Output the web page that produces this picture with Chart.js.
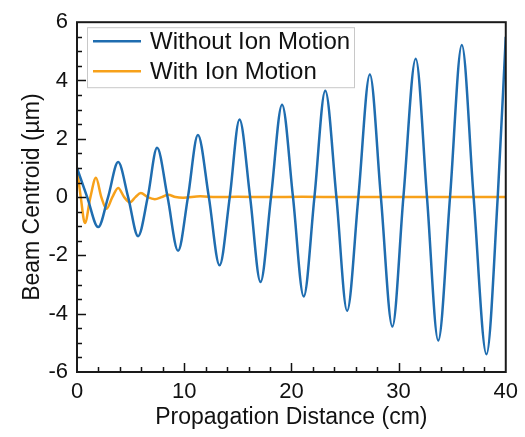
<!DOCTYPE html>
<html>
<head>
<meta charset="utf-8">
<script src="https://cdn.jsdelivr.net/npm/chart.js@4.4.1/dist/chart.umd.min.js"></script>
<style>
    html, body { margin: 0; padding: 0; background: #fff; }
</style>
</head>
<body>
<canvas id="beam-chart" width="525" height="437"></canvas>
<script>
// Дані (піки, западини та перетини нуля)
const withoutIonX = [0, 0.95, 1.98, 2.9, 3.84, 4.77, 5.7, 6.6, 7.47, 8.45, 9.43, 10.35, 11.28, 12.3, 13.3, 14.25,
    15.16, 16.15, 17.12, 18.1, 19.13, 20.15, 21.15, 22.15, 23.16, 24.2, 25.2, 26.25, 27.32, 28.35, 29.42,
    30.45, 31.6, 32.65, 33.7, 34.8, 35.9, 37.0, 38.2, 39.25, 40];
const withoutIonY = [1.0, 0, -1.03, 0, 1.2, 0, -1.34, 0, 1.69, 0, -1.84, 0, 2.13, 0, -2.34, 0,
    2.66, 0, -2.91, 0, 3.17, 0, -3.41, 0, 3.65, 0, -3.9, 0, 4.21, 0, -4.44,
    0, 4.75, 0, -4.92, 0, 5.22, 0, -5.39, 0, 5.5];

const withIonX = [0, 0.35, 0.74, 1.25, 1.77, 2.27, 2.76, 3.3, 3.84, 4.4, 4.93, 5.45, 5.95, 6.6, 7.26, 7.9,
    8.5, 9.2, 9.9, 11.5, 13, 15, 18, 21, 25, 30, 35, 40];
const withIonY = [1.0, 0, -0.89, 0, 0.66, 0, -0.4, 0, 0.31, 0, -0.18, 0, 0.14, 0, -0.07, 0,
    0.08, 0, -0.02, 0.03, 0.0, 0.01, 0.0, 0.01, 0.0, 0.0, 0.0, 0.0];

const seriesLabels = ['Without Ion Motion', 'With Ion Motion'];
const seriesColors = ['#1f6db0', '#f7a11a'];

const xTickValues = [0, 10, 20, 30, 40];
const yTickValues = [-6, -4, -2, 0, 2, 4, 6];

const FONT = '"Liberation Sans", Arial, Helvetica, sans-serif';

function toPoints(xs, ys) {
    return xs.map((x, i) => ({ x: x, y: ys[i] }));
}

// Рамка та внутрішні мітки (основні + проміжні)
const frameTicks = {
    id: 'frameTicks',
    afterDatasetsDraw(chart) {
        const { ctx, chartArea: a, scales: { x, y } } = chart;
        ctx.save();
        ctx.strokeStyle = '#111';
        ctx.lineWidth = 1.5;
        ctx.beginPath();
        for (let v = 2; v < 40; v += 2) {
            const p = Math.round(x.getPixelForValue(v)) + 0.5;
            const len = v % 10 === 0 ? 9 : 5;
            ctx.moveTo(p, a.bottom);
            ctx.lineTo(p, a.bottom - len);
        }
        for (let v = -5.5; v < 6; v += 0.5) {
            const p = Math.round(y.getPixelForValue(v)) + 0.5;
            const len = v % 2 === 0 ? 9 : 5;
            ctx.moveTo(a.left, p);
            ctx.lineTo(a.left + len, p);
        }
        ctx.stroke();
        ctx.lineWidth = 2;
        ctx.strokeStyle = '#1a1a1a';
        ctx.strokeRect(a.left, a.top, a.width, a.height);
        ctx.restore();
    }
};

// Легенда всередині області графіка
const insideLegend = {
    id: 'insideLegend',
    afterDraw(chart) {
        const { ctx, chartArea: a } = chart;
        const bx = a.left + 10, by = a.top + 5, bw = 267, bh = 60;
        ctx.save();
        ctx.fillStyle = '#fff';
        ctx.fillRect(bx, by, bw, bh);
        ctx.strokeStyle = '#c8c8c8';
        ctx.lineWidth = 1;
        ctx.strokeRect(bx + 0.5, by + 0.5, bw, bh);
        ctx.font = '24px ' + FONT;
        ctx.textBaseline = 'middle';
        chart.data.datasets.forEach((ds, i) => {
            const iy = by + 14 + i * 30;
            ctx.strokeStyle = ds.borderColor;
            ctx.lineWidth = 2.5;
            ctx.beginPath();
            ctx.moveTo(bx + 6, iy);
            ctx.lineTo(bx + 54, iy);
            ctx.stroke();
            ctx.fillStyle = '#111';
            ctx.fillText(ds.label, bx + 63, iy + 1);
        });
        ctx.restore();
    }
};

new Chart(document.getElementById('beam-chart'), {
    type: 'line',
    data: {
        datasets: [
            {
                label: seriesLabels[0],
                data: toPoints(withoutIonX, withoutIonY),
                borderColor: seriesColors[0],
                borderWidth: 2.5,
                pointRadius: 0,
                cubicInterpolationMode: 'monotone',
                fill: false
            },
            {
                label: seriesLabels[1],
                data: toPoints(withIonX, withIonY),
                borderColor: seriesColors[1],
                borderWidth: 2.5,
                pointRadius: 0,
                cubicInterpolationMode: 'monotone',
                fill: false
            }
        ]
    },
    options: {
        responsive: false,
        animation: false,
        devicePixelRatio: 1,
        layout: { padding: { top: 15, right: 18, left: 0, bottom: 0 } },
        plugins: { legend: { display: false }, tooltip: { enabled: false } },
        scales: {
            x: {
                type: 'linear',
                min: 0,
                max: 40,
                afterBuildTicks: s => { s.ticks = xTickValues.map(v => ({ value: v })); },
                afterFit: s => { s.height = 65; },
                grid: { display: false, drawTicks: false },
                border: { display: false },
                ticks: {
                    padding: 7,
                    color: '#111',
                    maxRotation: 0,
                    font: { family: FONT, size: 22 },
                    callback: v => String(v)
                },
                title: {
                    display: true,
                    text: 'Propagation Distance (cm)',
                    color: '#111',
                    font: { family: FONT, size: 23 },
                    padding: { top: 0, bottom: 6 }
                }
            },
            y: {
                type: 'linear',
                min: -6,
                max: 6,
                afterBuildTicks: s => { s.ticks = yTickValues.map(v => ({ value: v })); },
                afterFit: s => { s.width = 77; },
                grid: { display: false, drawTicks: false },
                border: { display: false },
                ticks: {
                    padding: 9,
                    color: '#111',
                    font: { family: FONT, size: 22 },
                    callback: v => String(v)
                },
                title: {
                    display: true,
                    text: 'Beam Centroid (µm)',
                    color: '#111',
                    font: { family: FONT, size: 23 },
                    padding: { top: 19, bottom: 0 }
                }
            }
        }
    },
    plugins: [frameTicks, insideLegend]
});
</script>
</body>
</html>
